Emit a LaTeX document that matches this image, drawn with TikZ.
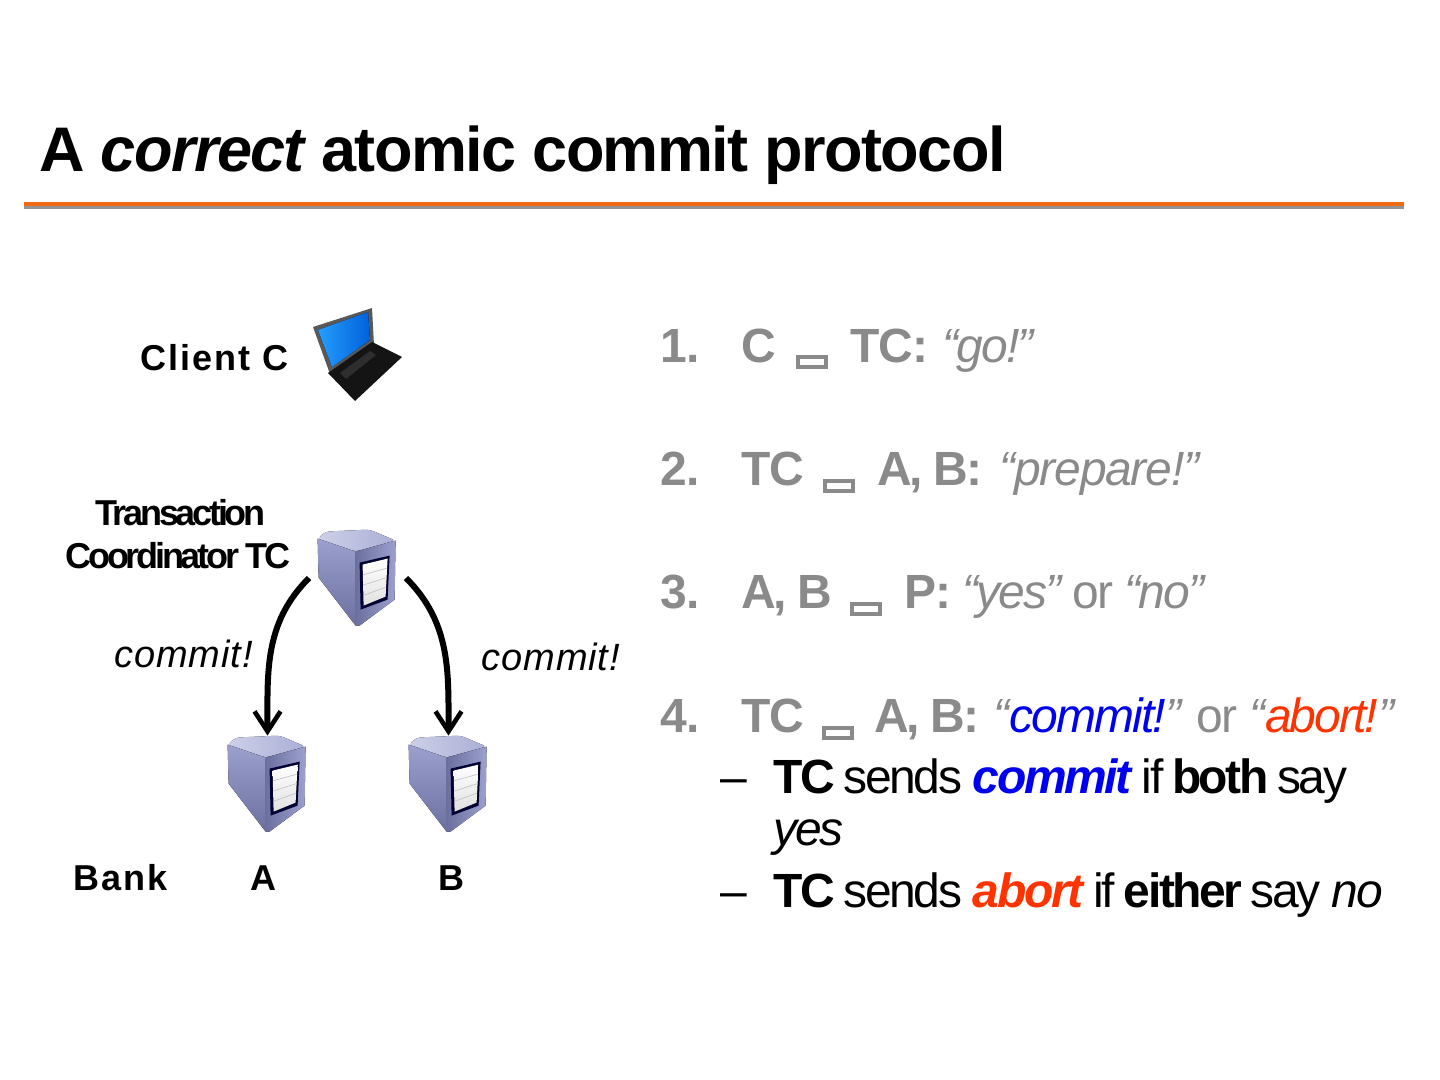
\documentclass[tikz,border=0pt]{standalone}
\usepackage{fontspec}
\setmainfont{Liberation Sans}
\usetikzlibrary{positioning, calc, arrows.meta}
\definecolor{stepgray}{HTML}{8A8A8A}
\definecolor{commitblue}{HTML}{0000F0}
\definecolor{abortred}{HTML}{FF3300}
\definecolor{ruleorange}{HTML}{F26A13}
\definecolor{hostlight}{HTML}{CDD0E8}
\definecolor{hostmid}{HTML}{9CA0CE}
\definecolor{hostdark}{HTML}{6C709F}
\newcommand{\bodysize}{\fontsize{24}{28}\selectfont}
\newcommand{\labelsize}{\fontsize{18}{21.5}\selectfont}
\tikzset{
  % Title
  titletext/.style  = { anchor=base west, inner sep=0, font=\fontsize{31.5}{36}\selectfont\bfseries\addfontfeature{LetterSpace=-2.5} },
  % Left diagram
  spacedlabel/.style= { anchor=base west, inner sep=0, font=\labelsize\bfseries\addfontfeature{LetterSpace=5.5} },
  tightlabel/.style = { anchor=base east, inner sep=0, font=\labelsize\bfseries\addfontfeature{LetterSpace=-9} },
  msglabel/.style   = { anchor=base west, inner sep=0, font=\fontsize{19}{23}\selectfont\itshape\addfontfeature{LetterSpace=2.5} },
  hostbox/.style    = { minimum width=39.5pt, minimum height=48.5pt, inner sep=0 },
  commitflow/.style = { line width=3pt, -{Straight Barb[length=10pt,width=13pt,line width=2.3pt]} },
  % Right list
  steptext/.style   = { anchor=base west, inner sep=0, font=\bodysize\bfseries\addfontfeature{LetterSpace=-2}, text=stepgray },
  stepnames/.style  = { anchor=base west, inner sep=0, font=\bodysize\bfseries\addfontfeature{LetterSpace=-5}, text=stepgray },
  stepquote/.style  = { anchor=base west, inner sep=0, font=\bodysize\addfontfeature{LetterSpace=-4}, text=stepgray },
  subtext/.style    = { anchor=base west, inner sep=0, font=\bodysize\addfontfeature{LetterSpace=-5} },
  glyphbox/.style   = { draw=stepgray, line width=2pt, minimum width=14pt, minimum height=5pt, inner sep=0 },
  % Server and laptop pictures
  server/.pic = {
    \fill[rounded corners=2pt, left color=hostlight, right color=hostmid!70!hostlight] (0,9) -- (8,2) -- (52,0) -- (78,11) -- (38,22) -- cycle;
    \fill[top color=hostmid, bottom color=hostdark] (0,9) -- (38,22) -- (38,96) -- (1,48) -- cycle;
    \fill[left color=hostdark, right color=hostmid] (38,22) -- (78,11) -- (77,70) -- (42,96) -- (38,96) -- cycle;
    \fill[black!80!blue] (42,33) -- (72,26) -- (70,70) -- (43,80) -- cycle;
    \fill[top color=white, bottom color=black!12] (45,35) -- (70,29) -- (68,67) -- (46,76) -- cycle;
    \foreach \r in {0.25,0.5,0.75}
      \draw[black!25, line width=0.3pt] ($(45,35)!\r!(46,76)$) -- ($(70,29)!\r!(68,67)$);
  },
  laptop/.pic = {
    \fill[black!65] (13,32) -- (72,13) -- (74,50) -- (30,79) -- cycle;
    \fill[left color=cyan!55!blue!85!white, right color=blue!55!cyan!85!black] (18,35) -- (68,17) -- (70,45) -- (32,72) -- cycle;
    \fill[black!92] (28,78) -- (72,47) -- (102,62) -- (55,106) -- cycle;
    \fill[black!82] (40,78) -- (70,56) -- (76,60) -- (46,84) -- cycle;
  }
}
\begin{document}
\begin{tikzpicture}[x=0.5pt, y=-0.5pt]
  \useasboundingbox (0,0) rectangle (1440,1080);

  % --- Title and rule ---------
  \node[titletext] (title) at (39,172) {A \textit{correct} atomic commit protocol};
  \fill[black!42] (24,206) rectangle (1404,209);
  \fill[ruleorange] (24,202) rectangle (1404,206.5);

  % --- Client, coordinator and banks ---------
  \node[spacedlabel] (client) at (140,371) {Client C};
  \pic at (300,295) {laptop};

  \node[tightlabel] (tclabel) at (291,568) {Coordinator TC};
  \node[tightlabel] (trlabel) at (266,525) {Transaction};

  \node[hostbox] (tc) at (357.5,578.5) {};
  \node[hostbox] (banka) at (267.5,784.5) {};
  \node[hostbox] (bankb) at (448.5,784.5) {};
  \foreach \n in {tc,banka,bankb}
    \pic at (\n.north west) {server};

  \coordinate (tcleft) at (309,578);
  \coordinate (tcright) at (406,578);
  \draw[commitflow] (tcleft) to[out=225, in=90] (banka.north);
  \draw[commitflow] (tcright) to[out=-45, in=90] (bankb.north);

  \node[msglabel] (msga) at (114,667) {commit!};
  \node[msglabel] (msgb) at (481,670) {commit!};

  \node[spacedlabel] (bank) at (73,890) {Bank};
  \node[spacedlabel] (namea) at (250,890) {A};
  \node[spacedlabel] (nameb) at (438,890) {B};

  % --- Protocol steps (fixed rows, 123px apart) ---------
  \node[steptext] (numa) at (660,363) {1.};
  \node[steptext] (froma) at (741,363) {C};
  \node[glyphbox] (boxa) at (812,362) {};
  \node[steptext] (toa) at (850,363) {TC:};
  \node[stepquote] (quotea) at (942,363) {\itshape “go!”};

  \node[steptext] (numb) at (660,485) {2.};
  \node[steptext] (fromb) at (741,485) {TC};
  \node[glyphbox] (boxb) at (839,486) {};
  \node[stepnames] (tob) at (877,485) {A, B:};
  \node[stepquote, font=\bodysize\addfontfeature{LetterSpace=-2.5}] (quoteb) at (999,485) {\itshape “prepare!”};

  \node[steptext] (numc) at (660,608) {3.};
  \node[stepnames] (fromc) at (741,608) {A, B};
  \node[glyphbox] (boxc) at (866,609) {};
  \node[steptext] (toc) at (904,608) {P:};
  \node[stepquote] (quotec) at (962,608) {\textit{“yes”} or \textit{“no”}};

  \node[steptext] (numd) at (660,732) {4.};
  \node[steptext] (fromd) at (741,732) {TC};
  \node[glyphbox] (boxd) at (838,733) {};
  \node[stepnames] (tod) at (874,732) {A, B:};
  \node[stepquote] (quoted) at (993,732) {\textit{“\textcolor{commitblue}{commit!}”} or \textit{“\textcolor{abortred}{abort!}”}};

  % --- Sub items ---------
  \node[subtext] (dasha) at (720,793) {–};
  \node[subtext] (suba) at (773,793) {\textbf{TC} sends \textcolor{commitblue}{\textbf{\textit{commit}}} if \textbf{both} say};
  \node[subtext] (subb) at (773,845) {\textit{yes}};
  \node[subtext] (dashb) at (720,907) {–};
  \node[subtext] (subc) at (773,907) {\textbf{TC} sends \textcolor{abortred}{\textbf{\textit{abort}}} if \textbf{either} say \textit{no}};
\end{tikzpicture}
\end{document}
